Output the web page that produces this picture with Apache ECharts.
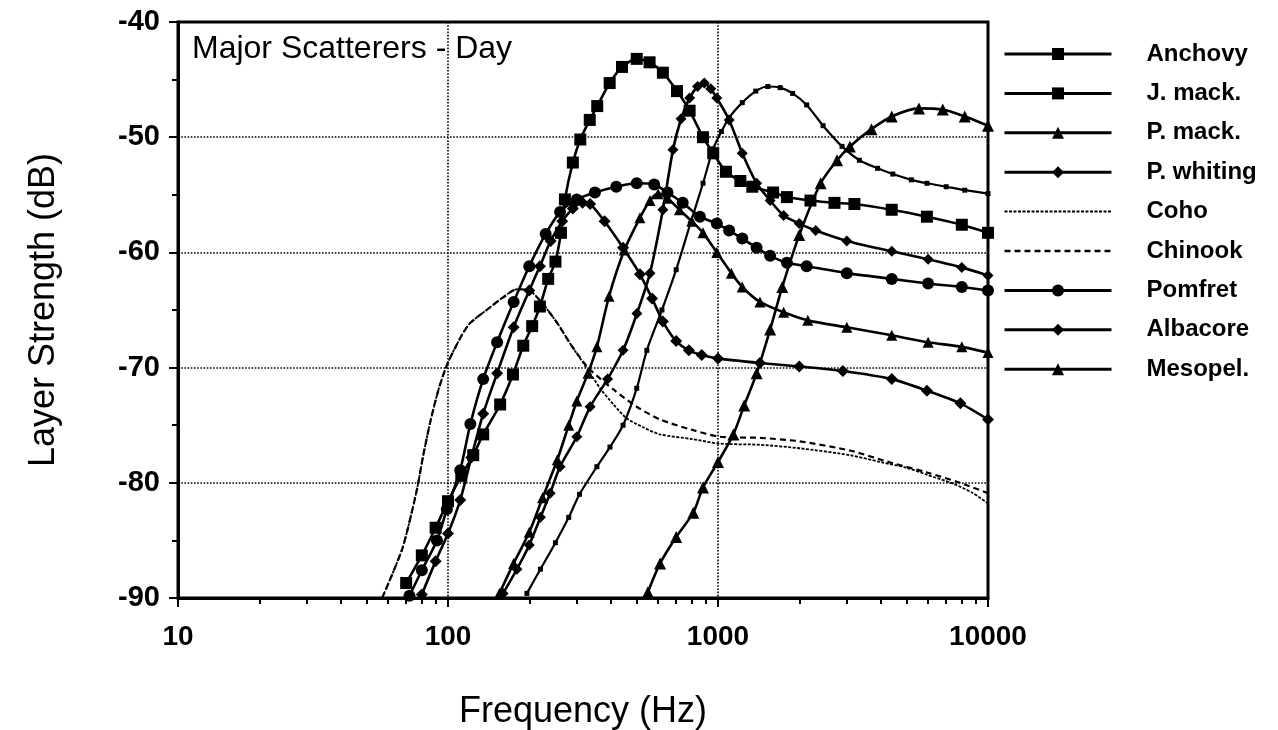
<!DOCTYPE html>
<html>
<head>
<meta charset="utf-8">
<script src="https://cdn.jsdelivr.net/npm/echarts@6/dist/echarts.min.js"></script>
<style>
html,body{margin:0;padding:0;background:#fff;}
#chart{width:1278px;height:730px;}
</style>
</head>
<body>
<div id="chart"></div>
<script>
// ---- data: [frequency (Hz), layer strength (dB)] ----
var anchovy = [[196,-89.6],[220,-87.5],[250,-85.2],[280,-83],[307,-81],[356,-78.6],[398,-76.9],[445,-75],[500,-71.8],[545,-68.5],[620,-65],[700,-61.5],[790,-57.5],[880,-54],[960,-51],[1030,-49.5],[1100,-48.3],[1230,-47],[1380,-46],[1530,-45.6],[1700,-45.7],[1890,-46.2],[2130,-47.2],[2450,-49],[2880,-50.8],[3340,-52],[3900,-52.7],[4440,-53.2],[5200,-53.7],[5940,-54],[7000,-54.3],[8200,-54.6],[10000,-54.9]];
var jMack = [[70,-88.7],[80,-86.3],[90,-83.9],[100,-81.6],[112,-79.4],[124,-77.6],[135,-75.8],[156,-73.2],[174,-70.6],[190,-68.1],[205,-66.4],[219,-64.7],[235,-62.3],[250,-60.8],[262,-58.3],[271,-55.4],[290,-52.2],[309,-50.2],[335,-48.5],[357,-47.3],[397,-45.3],[441,-43.9],[500,-43.2],[558,-43.5],[625,-44.4],[705,-46],[785,-47.7],[880,-50],[960,-51.4],[1070,-53],[1210,-53.8],[1340,-54.3],[1600,-54.8],[1800,-55.2],[2200,-55.5],[2700,-55.7],[3200,-55.8],[4400,-56.3],[5940,-56.9],[8000,-57.6],[10000,-58.3]];
var pMack = [[155,-89.6],[175,-87],[200,-84.3],[224,-81.3],[254,-78],[280,-75],[300,-72.9],[330,-70.5],[356,-68.2],[395,-63.8],[450,-59.8],[514,-57],[560,-55.5],[600,-54.9],[650,-55.3],[720,-56.3],[800,-57.3],[880,-58.3],[990,-60],[1120,-61.8],[1230,-63],[1430,-64.3],[1750,-65.2],[2150,-65.9],[3000,-66.5],[4400,-67.2],[6000,-67.8],[8000,-68.2],[10000,-68.7]];
var pWhiting = [[160,-89.6],[180,-87.5],[200,-85.4],[220,-83],[239,-80.9],[260,-78.6],[300,-76],[336,-73.4],[390,-71],[445,-68.5],[501,-65.3],[560,-61.8],[625,-56.3],[681,-51.1],[730,-48.4],[785,-46.6],[840,-45.6],[890,-45.3],[940,-45.8],[990,-46.6],[1100,-48.5],[1230,-51.4],[1390,-54],[1560,-55.5],[1750,-56.8],[2000,-57.5],[2300,-58.1],[3000,-59],[4400,-59.9],[6000,-60.6],[8000,-61.3],[10000,-62]];
var coho = [[57,-90],[62,-88],[68,-85.6],[73,-82.8],[77,-80.4],[81,-77.6],[86,-74.7],[92,-72],[99,-69.8],[110,-67.6],[120,-66.2],[139,-65],[160,-63.9],[180,-63.2],[200,-63.3],[225,-64.5],[255,-66.2],[285,-68],[317,-69.6],[366,-71.8],[410,-73.2],[459,-74.4],[530,-75.2],[610,-75.8],[800,-76.2],[1016,-76.6],[1431,-76.7],[2000,-77],[3080,-77.6],[4000,-78.2],[5000,-78.7],[5940,-79.3],[7470,-80.1],[8800,-80.9],[10000,-81.8]];
var chinook = [[57,-90],[62,-88],[68,-85.6],[73,-82.8],[77,-80.4],[81,-77.6],[86,-74.7],[92,-72],[99,-69.8],[110,-67.6],[120,-66.2],[139,-65],[160,-63.9],[180,-63.2],[200,-63.3],[225,-64.5],[255,-66.2],[285,-68],[317,-69.5],[336,-70.2],[410,-71.9],[500,-73.4],[610,-74.5],[800,-75.4],[1016,-76],[1431,-76.1],[2000,-76.4],[3080,-77.2],[4440,-78.3],[5940,-79.1],[7870,-80],[10000,-80.9]];
var pomfret = [[72,-89.8],[80,-87.6],[91,-85],[99,-82.3],[111,-78.9],[121,-74.9],[135,-71],[152,-67.8],[175,-64.3],[200,-61.2],[230,-58.4],[260,-56.5],[300,-55.4],[350,-54.8],[420,-54.3],[500,-54],[580,-54.1],[650,-54.8],[740,-55.7],[857,-56.9],[990,-57.5],[1100,-58.1],[1230,-58.8],[1390,-59.6],[1560,-60.3],[1800,-60.9],[2130,-61.2],[3000,-61.8],[4400,-62.3],[6000,-62.7],[8000,-63],[10000,-63.3]];
var albacore = [[80,-89.7],[90,-86.8],[100,-84.4],[111,-81.5],[122,-77.8],[135,-74],[152,-70.5],[175,-66.5],[200,-63.3],[219,-61.2],[240,-59],[265,-57.3],[290,-56.2],[315,-55.7],[336,-55.8],[380,-57.3],[445,-59.6],[514,-61.9],[570,-64],[625,-66],[700,-67.7],[780,-68.5],[870,-68.9],[1000,-69.2],[1430,-69.6],[2000,-69.9],[2900,-70.3],[4400,-71],[5940,-72],[7900,-73.1],[10000,-74.5]];
var mesopel = [[550,-89.5],[610,-87],[700,-84.7],[810,-82.6],[880,-80.4],[1000,-78.2],[1140,-75.8],[1250,-73.3],[1390,-70.5],[1560,-66.7],[1730,-63],[2000,-58.5],[2400,-54],[2760,-52],[3080,-50.8],[3700,-49.3],[4400,-48.2],[5550,-47.5],[6800,-47.6],[8200,-48.2],[10000,-49]];

var seriesNames = ['Anchovy','J. mack.','P. mack.','P. whiting','Coho','Chinook','Pomfret','Albacore','Mesopel.'];
var xMinorTicks = [20,30,40,50,60,70,80,90,200,300,400,500,600,700,800,900,2000,3000,4000,5000,6000,7000,8000,9000];
var titleText = 'Major Scatterers - Day';
var xName = 'Frequency (Hz)';
var yName = 'Layer Strength (dB)';

var FONT = "'Liberation Sans', Arial, Helvetica, sans-serif";
var chart = echarts.init(document.getElementById('chart'), null, {renderer:'canvas'});

function mk(name, data, symbol, size, lineStyle){
  return {
    name: name, type: 'line', data: data,
    symbol: symbol, symbolSize: size, showSymbol: symbol !== 'none',
    smooth: 0.25, clip: true,
    lineStyle: Object.assign({color:'#000', width:2.6}, lineStyle || {}),
    itemStyle: {color:'#000'},
    emphasis: {disabled:true},
    z: 3
  };
}

var legendData = seriesNames.map(function(n, i){
  if (i === 4) return {name: n, itemStyle: {opacity: 0}, lineStyle: {width: 2}};
  if (i === 5) return {name: n, itemStyle: {opacity: 0}, lineStyle: {width: 2.5}};
  return {name: n, lineStyle: {width: 3}};
});

var option = {
  animation: false,
  backgroundColor: '#fff',
  color: ['#000'],
  textStyle: {fontFamily: FONT, color:'#000'},
  title: {
    text: titleText, left: 192, top: 33, padding: 0,
    textStyle: {fontFamily: FONT, fontSize: 32, fontWeight: 'normal', color:'#000'}
  },
  legend: {
    orient: 'vertical', left: 1003, top: 42, padding: 0,
    itemWidth: 107, itemHeight: 15, itemGap: 15.4,
    data: legendData,
    textStyle: {fontFamily: FONT, fontSize: 24, fontWeight: 'bold', color:'#000', lineHeight: 24, padding:[0,0,0,30]},
    selectedMode: false
  },
  grid: {
    left: 178, right: 290, top: 22, bottom: 132,
    outerBoundsMode: 'none', containLabel: false,
    show: true, borderColor: '#000', borderWidth: 3, backgroundColor: 'transparent'
  },
  xAxis: [{
    type: 'log', logBase: 10, min: 10, max: 10000,
    name: xName, nameLocation: 'middle', nameGap: 96,
    nameTextStyle: {fontFamily: FONT, fontSize: 36, color:'#000'},
    axisLine: {show: true, lineStyle: {color:'#000', width: 3}},
    axisTick: {show: true, length: 9, lineStyle: {color:'#000', width: 2}},
    axisLabel: {fontFamily: FONT, fontSize: 28, fontWeight: 'bold', color:'#000', margin: 25,
      formatter: function(v){ return String(Math.round(v)); }},
    splitLine: {show: true, lineStyle: {color:'#000', width: 1.6, type: 'dotted'}},
    minorTick: {show: false}
  },{
    type: 'log', logBase: 10, min: 10, max: 10000, position: 'bottom',
    axisLine: {show: false},
    axisTick: {show: true, length: 6, customValues: xMinorTicks, lineStyle: {color:'#000', width: 2}},
    axisLabel: {show: false},
    splitLine: {show: false}
  }],
  yAxis: {
    type: 'value', min: -90, max: -40, interval: 10,
    name: yName, nameLocation: 'middle', nameGap: 116,
    nameTextStyle: {fontFamily: FONT, fontSize: 36, color:'#000'},
    axisLine: {show: true, lineStyle: {color:'#000', width: 3}},
    axisTick: {show: true, length: 9, lineStyle: {color:'#000', width: 2}},
    minorTick: {show: true, splitNumber: 2, length: 6, lineStyle: {color:'#000', width: 2}},
    axisLabel: {fontFamily: FONT, fontSize: 29, fontWeight: 'bold', color:'#000', margin: 18},
    splitLine: {show: true, lineStyle: {color:'#000', width: 1.6, type: 'dotted'}}
  },
  series: [
    mk(seriesNames[0], anchovy, 'rect', 5, {width: 2.2}),
    mk(seriesNames[1], jMack, 'rect', 12),
    mk(seriesNames[2], pMack, 'triangle', 11),
    mk(seriesNames[3], pWhiting, 'diamond', 11),
    mk(seriesNames[4], coho, 'none', 0, {width: 1.8, type: [3,1.5]}),
    mk(seriesNames[5], chinook, 'none', 0, {width: 2.2, type: [6,4]}),
    mk(seriesNames[6], pomfret, 'circle', 12),
    mk(seriesNames[7], albacore, 'diamond', 12),
    mk(seriesNames[8], mesopel, 'triangle', 12)
  ]
};
chart.setOption(option);
</script>
</body>
</html>
